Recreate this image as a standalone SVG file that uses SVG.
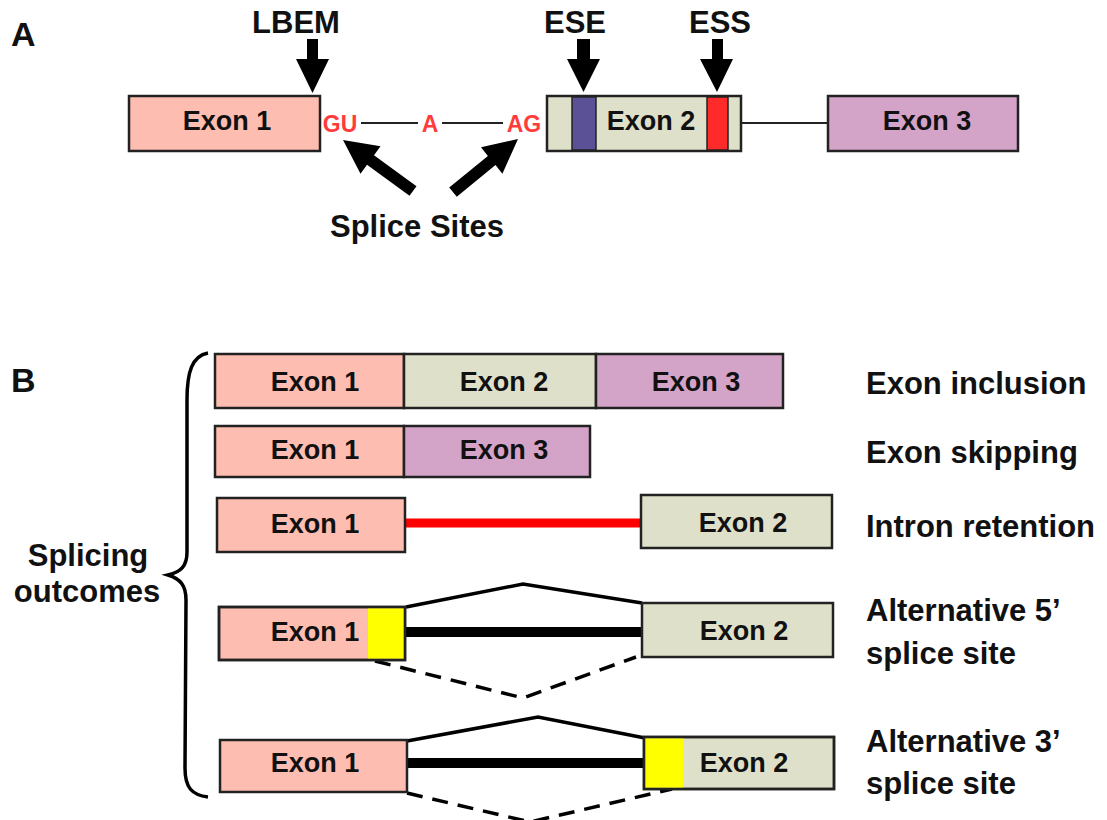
<svg xmlns="http://www.w3.org/2000/svg" width="1107" height="820" viewBox="0 0 1107 820">
<style>
text{font-family:"Liberation Sans",Arial,Helvetica,sans-serif;font-weight:bold;fill:#111}
.ex{font-size:27px;text-anchor:middle}
.lbl{font-size:31px}
.big{font-size:34px}
.red{fill:#ff3b3b;font-size:23px;text-anchor:middle}
.box{stroke:#222;stroke-width:2.5}
.e1{fill:#fdbdb0}
.e2{fill:#dfe0c9}
.e3{fill:#d4a3c8}
.yl{fill:#ffff00}
.thin{stroke:#222;stroke-width:2;fill:none}
.sol{stroke:#000;stroke-width:3.5;fill:none;stroke-linejoin:miter}
.dash{stroke:#000;stroke-width:3.5;fill:none;stroke-dasharray:16 10}
.bar{stroke:#000;stroke-width:10}
.arr{fill:#000}
</style>
<rect width="1107" height="820" fill="#fff"/>

<!-- Panel A -->
<text class="big" x="11" y="46">A</text>
<g id="a-exon1">
<rect class="box e1" x="129" y="96" width="191" height="55"/>
<text class="ex" x="227" y="130">Exon 1</text>
</g>
<g id="a-exon2">
<rect class="box e2" x="547" y="96" width="194" height="55"/>
<rect x="572" y="97" width="24" height="53" fill="#5b5196" stroke="#222" stroke-width="1.5"/>
<rect x="707" y="97" width="21" height="53" fill="#ff2a2a" stroke="#222" stroke-width="1.5"/>
<text class="ex" x="651" y="130">Exon 2</text>
</g>
<g id="a-exon3">
<rect class="box e3" x="828" y="96" width="190" height="55"/>
<text class="ex" x="927" y="130">Exon 3</text>
</g>
<g id="a-intron">
<text class="red" x="340" y="132">GU</text>
<text class="red" x="430" y="132">A</text>
<text class="red" x="524" y="132">AG</text>
</g>
<g id="a-labels">
<text class="lbl" x="296" y="33" text-anchor="middle">LBEM</text>
<text class="lbl" x="575" y="33" text-anchor="middle">ESE</text>
<text class="lbl" x="720" y="33" text-anchor="middle">ESS</text>
<text class="lbl" x="417" y="237" text-anchor="middle">Splice Sites</text>
</g>
<g id="connectors">
<line class="thin" x1="361" y1="123" x2="418" y2="123"/>
<line class="thin" x1="442" y1="123" x2="503" y2="123"/>
<line class="thin" x1="741" y1="123" x2="828" y2="123"/>
<path class="arr" d="M307,39 H318 V59 H329 L312.5,93 L296,59 H307 Z"/>
<path class="arr" d="M577,39 H590 V59 H600 L583.5,92 L567,59 H577 Z"/>
<path class="arr" d="M712,39 H723 V59 H733 L717,92 L700,59 H712 Z"/>
<polygon class="arr" points="416.5,186.2 374,155.2 380.5,146.3 343,140 360.5,173.7 367,164.8 409.5,195.8"/>
<polygon class="arr" points="449.2,187.4 487.9,155.9 481,147.3 518,139 502.4,173.7 495.5,165.1 456.8,196.7"/>
<!-- Panel B connectors -->
<line x1="405" y1="523" x2="641" y2="523" stroke="#ff0000" stroke-width="9"/>
<line class="bar" x1="405" y1="632" x2="642" y2="632"/>
<polyline class="sol" points="406,607 523,584 642,603"/>
<polyline class="dash" points="375,661 523,698 636,657"/>
<line class="bar" x1="407" y1="763" x2="644" y2="763"/>
<polyline class="sol" points="407,741 538,717 645,738"/>
<polyline class="dash" points="407,793 530,822 672,789"/>
</g>

<!-- Panel B -->
<text class="big" x="11" y="392">B</text>
<g id="brace">
<path d="M208,353 C192,356 187,372 187,400 L187,552 C187,566 181,572 168,575 C181,579 186,586 186,600 L185,768 C185,788 192,795 208,797" fill="none" stroke="#000" stroke-width="3.5"/>
<text class="lbl" x="88" y="566" text-anchor="middle">Splicing</text>
<text class="lbl" x="87" y="602" text-anchor="middle">outcomes</text>
</g>
<g id="row-inclusion">
<rect class="box e1" x="215" y="354" width="189" height="54"/>
<rect class="box e2" x="404" y="354" width="192" height="54"/>
<rect class="box e3" x="596" y="354" width="187" height="54"/>
<text class="ex" x="315" y="391">Exon 1</text>
<text class="ex" x="504" y="391">Exon 2</text>
<text class="ex" x="696" y="391">Exon 3</text>
<text class="lbl" x="866" y="394">Exon inclusion</text>
</g>
<g id="row-skipping">
<rect class="box e1" x="215" y="426" width="189" height="51"/>
<rect class="box e3" x="404" y="426" width="186" height="51"/>
<text class="ex" x="315" y="459">Exon 1</text>
<text class="ex" x="504" y="459">Exon 3</text>
<text class="lbl" x="866" y="463">Exon skipping</text>
</g>
<g id="row-retention">
<rect class="box e1" x="217" y="498" width="188" height="54"/>
<rect class="box e2" x="641" y="495" width="191" height="53"/>
<text class="ex" x="315" y="533">Exon 1</text>
<text class="ex" x="743" y="532">Exon 2</text>
<text class="lbl" x="866" y="537">Intron retention</text>
</g>
<g id="row-alt5">
<rect class="box e1" x="219" y="607" width="186" height="53"/>
<rect class="yl" x="368" y="608.25" width="35.75" height="50.5"/>
<rect x="219" y="607" width="186" height="53" fill="none" stroke="#222" stroke-width="2.5"/>
<rect class="box e2" x="642" y="603" width="191" height="54"/>
<text class="ex" x="315" y="641">Exon 1</text>
<text class="ex" x="744" y="640">Exon 2</text>
<text class="lbl" x="866" y="621">Alternative 5’</text>
<text class="lbl" x="866" y="664">splice site</text>
</g>
<g id="row-alt3">
<rect class="box e1" x="220" y="740" width="187" height="52"/>
<rect class="box e2" x="644" y="737" width="190" height="52"/>
<rect class="yl" x="645.25" y="738.25" width="38" height="49.5"/>
<rect x="644" y="737" width="190" height="52" fill="none" stroke="#222" stroke-width="2.5"/>
<text class="ex" x="315" y="772">Exon 1</text>
<text class="ex" x="744" y="772">Exon 2</text>
<text class="lbl" x="866" y="752">Alternative 3’</text>
<text class="lbl" x="866" y="794">splice site</text>
</g>
</svg>
